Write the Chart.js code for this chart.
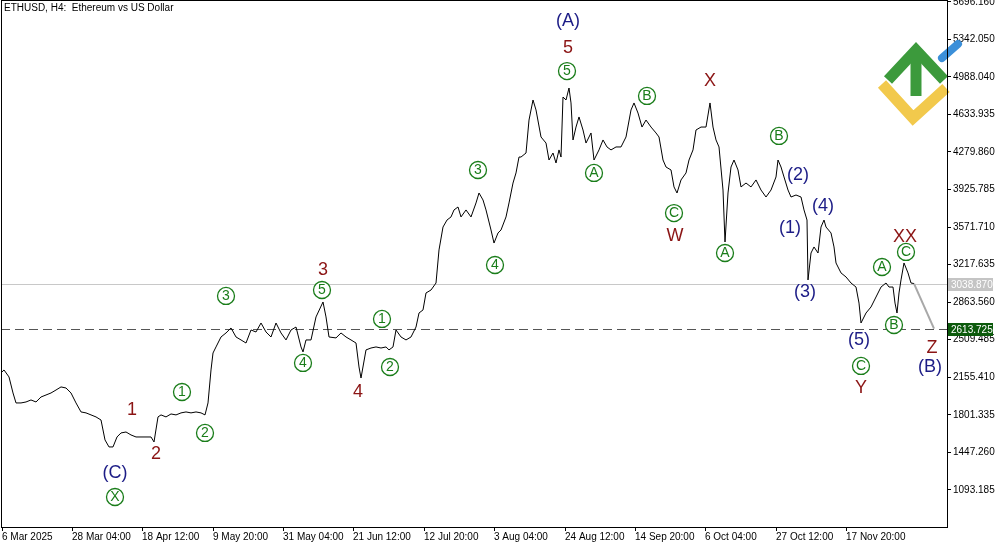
<!DOCTYPE html>
<html>
<head>
<meta charset="utf-8">
<script src="https://cdn.jsdelivr.net/npm/chart.js@4.4.1/dist/chart.umd.min.js"></script>
<style>
  body { margin: 0; background: #fff; }
  #wrap { width: 1000px; height: 545px; }
</style>
</head>
<body>
<div id="wrap"><canvas id="ethChart" width="1000" height="545"></canvas></div>
<script>
// time position (chart slots, ~7h each) and close price
const slots = [0,3,8,12,15,20,25,30,35,40,45,50,55,60,65,70,75,80,85,90,95,100,104,108,112,116,120,125,130,135,140,145,150,153,157,160,165,170,175,180,185,190,195,200,204,207,210,212,215,220,225,230,235,240,245,
  250,255,260,265,270,275,280,285,290,295,300,302,305,310,315,322,325,328,335,340,345,350,355,358,360,365,370,375,380,385,388,392,395,400,405,410,415,418,422,425,430,435,438,442,446,450,453,457,460,465,470,475,478,482,485,490,493,497,500,505,508,512,515,518,
  520,525,528,532,535,540,545,548,552,555,558,560,562,565,568,570,572,575,578,582,585,590,593,598,602,606,610,615,620,625,630,633,637,641,645,650,655,658,662,665,670,673,676,680,685,688,692,695,700,705,709,712,715,718,722,724,727,730,733,737,740,745,750,755,
  760,765,770,775,777,780,783,787,790,795,800,803,806,807,810,813,817,820,823,825,830,833,835,840,845,850,855,858,860,865,870,875,880,885,888,892,894,896,898,900,903,907,910,913];
const closes = [2196,2224,2158,2007,1913,1913,1922,1941,1922,1969,1988,2007,2035,2064,2054,2007,1913,1828,1819,1800,1781,1752,1564,1498,1498,1592,1630,1639,1611,1592,1592,1592,1592,1545,1781,1800,1781,1809,1800,1819,1828,1819,1828,1819,1800,1913,2224,2384,2441,2535,2573,2620,2535,2507,2478,
  2601,2582,2667,2582,2535,2667,2573,2507,2601,2629,2441,2394,2507,2507,2724,2865,2724,2535,2526,2573,2535,2507,2478,2252,2148,2413,2431,2441,2431,2441,2413,2441,2601,2535,2507,2535,2629,2761,2790,2950,2978,3044,3356,3572,3638,3667,3733,3761,3667,3733,3667,3799,3893,3827,3733,3544,3421,3516,3544,3667,3799,3987,4082,4232,
  4232,4270,4581,4770,4676,4421,4364,4204,4270,4176,4299,4232,4798,4770,4883,4742,4393,4515,4610,4487,4364,4459,4204,4299,4393,4327,4299,4327,4327,4421,4676,4742,4647,4515,4581,4515,4459,4421,4204,4138,4110,3950,3893,4016,4082,4204,4299,4487,4515,4515,4742,4515,4393,4327,3921,3431,3893,4138,4204,4110,3950,3987,3950,4016,
  3921,3855,3921,4044,4204,4138,4044,3921,3855,3874,3855,3733,3638,3073,3327,3384,3327,3572,3638,3572,3516,3384,3233,3139,3101,3044,3006,2855,2667,2761,2818,2912,3006,3044,3006,3006,2855,2761,2950,3073,3233,3139,3044,3039];

const projection = [[913, 3039], [933, 2613.725]];
const lastPrice = 3038.870;
const levelPrice = 2613.725;

const yTicks = [5696.160,5342.050,4988.040,4633.935,4279.860,3925.785,3571.710,3217.635,2863.560,2509.485,2155.410,1801.335,1447.260,1093.185];
const xTickPos = [1,71,141,212,282,352,423,493,564,634,704,775,845];
const xTickLabels = ["6 Mar 2025","28 Mar 04:00","18 Apr 12:00","9 May 20:00","31 May 04:00","21 Jun 12:00","12 Jul 20:00","3 Aug 04:00","24 Aug 12:00","14 Sep 20:00","6 Oct 04:00","27 Oct 12:00","17 Nov 20:00"];

// wave labels: text, slot, price, style
const waveLabels = [
  ["(A)",567,5515,"navy"],["5",567,5260,"red"],["5",566,5043,"circ"],
  ["X",709,4949,"red"],["B",646,4808,"circ"],["A",593,4082,"circ"],["C",673,3704,"circ"],["W",674,3488,"red"],["A",724,3327,"circ"],
  ["B",778,4431,"circ"],["(2)",797,4063,"navy"],["(1)",789,3563,"navy"],["(4)",822,3770,"navy"],["(3)",804,2959,"navy"],["(5)",858,2507,"navy"],["C",860,2262,"circ"],["Y",860,2054,"red"],
  ["A",881,3195,"circ"],["B",893,2648,"circ"],["XX",904,3478,"red"],["C",905,3337,"circ"],["Z",931,2431,"red"],["(B)",929,2252,"navy"],
  ["3",477,4110,"circ"],["4",494,3214,"circ"],["1",381,2705,"circ"],["2",389,2252,"circ"],["3",322,3167,"red"],["5",321,2978,"circ"],["4",302,2290,"circ"],["4",357,2016,"red"],
  ["3",225,2922,"circ"],["1",181,2016,"circ"],["2",204,1630,"circ"],["1",131,1847,"red"],["2",155,1432,"red"],["(C)",114,1253,"navy"],["X",114,1026,"circ"]
];

const overlay = {
  id: "overlay",
  beforeDatasetsDraw(chart) {
    const { ctx, chartArea: a, scales: { x, y } } = chart;
    ctx.save();
    // last price line and level line
    ctx.strokeStyle = "#c8c8c8"; ctx.lineWidth = 1;
    let py = Math.round(y.getPixelForValue(lastPrice)) + 0.5;
    ctx.beginPath(); ctx.moveTo(a.left, py); ctx.lineTo(a.right, py); ctx.stroke();
    ctx.strokeStyle = "#555"; ctx.setLineDash([9, 5]);
    py = Math.round(y.getPixelForValue(levelPrice)) + 0.5;
    ctx.beginPath(); ctx.moveTo(a.left, py); ctx.lineTo(a.right, py); ctx.stroke();
    ctx.setLineDash([]);
    // logo
    ctx.lineCap = "butt"; ctx.lineJoin = "miter";
    ctx.strokeStyle = "#3c9a3c"; ctx.lineWidth = 11;
    ctx.beginPath(); ctx.moveTo(888, 80); ctx.lineTo(916, 50); ctx.lineTo(944, 80); ctx.stroke();
    ctx.beginPath(); ctx.moveTo(916, 50); ctx.lineTo(916, 96); ctx.stroke();
    ctx.strokeStyle = "#f2c94c";
    ctx.beginPath(); ctx.moveTo(882, 84); ctx.lineTo(913, 118); ctx.lineTo(946, 88); ctx.stroke();
    ctx.strokeStyle = "#3b8fd9"; ctx.lineCap = "round"; ctx.lineWidth = 8;
    ctx.beginPath(); ctx.moveTo(942, 58); ctx.lineTo(958, 44); ctx.stroke();
    ctx.restore();
  },
  afterDatasetsDraw(chart) {
    const { ctx, chartArea: a, scales: { x, y } } = chart;
    ctx.save();
    // projection
    ctx.strokeStyle = "#a8a8a8"; ctx.lineWidth = 2;
    ctx.beginPath();
    ctx.moveTo(x.getPixelForValue(projection[0][0]), y.getPixelForValue(projection[0][1]));
    ctx.lineTo(x.getPixelForValue(projection[1][0]), y.getPixelForValue(projection[1][1]));
    ctx.stroke();
    // wave labels
    ctx.textAlign = "center"; ctx.textBaseline = "middle";
    waveLabels.forEach(([t, sx, p, kind]) => {
      const px = x.getPixelForValue(sx), py = y.getPixelForValue(p);
      if (kind === "circ") {
        ctx.strokeStyle = "#1a7d1a"; ctx.lineWidth = 1.3;
        ctx.fillStyle = "#fff";
        ctx.beginPath(); ctx.arc(px, py, 8.5, 0, Math.PI * 2); ctx.fill(); ctx.stroke();
        ctx.fillStyle = "#1a7d1a"; ctx.font = "14px 'Liberation Sans'";
        ctx.fillText(t, px, py + 0.5);
      } else {
        ctx.fillStyle = kind === "navy" ? "#1c1c86" : "#8b1414";
        ctx.font = "18px 'Liberation Sans'";
        ctx.fillText(t, px, py);
      }
    });
    // header
    ctx.textAlign = "left"; ctx.fillStyle = "#000"; ctx.font = "10px 'Liberation Sans'";
    ctx.fillText("ETHUSD, H4:  Ethereum vs US Dollar", 4, 8);
    // price tags
    const tag = (p, bg) => {
      const ty = Math.round(y.getPixelForValue(p));
      ctx.fillStyle = bg; ctx.fillRect(a.right + 1, ty - 6, 45, 13);
      ctx.fillStyle = "#fff"; ctx.font = "10px 'Liberation Sans'";
      ctx.fillText(p.toFixed(3), a.right + 4, ty + 1);
    };
    tag(lastPrice, "#c4c4c4");
    tag(levelPrice, "#0c5a0c");
    // frame
    ctx.strokeStyle = "#000"; ctx.lineWidth = 1;
    ctx.strokeRect(a.left + 0.5, a.top + 0.5, a.right - a.left, a.bottom - a.top);
    ctx.restore();
  }
};

new Chart(document.getElementById("ethChart"), {
  type: "line",
  data: {
    datasets: [{
      data: slots.map((s, i) => ({ x: s, y: closes[i] })),
      borderColor: "#000",
      borderWidth: 1,
      pointRadius: 0,
      tension: 0
    }]
  },
  options: {
    responsive: false,
    animation: false,
    devicePixelRatio: 1,
    layout: { padding: { top: 0, left: 1, right: 0, bottom: 0 } },
    plugins: { legend: { display: false }, tooltip: { enabled: false } },
    scales: {
      x: {
        type: "linear", min: 0, max: 946,
        afterBuildTicks: s => { s.ticks = xTickPos.map(v => ({ value: v })); },
        afterFit: s => { s.height = 18; s.paddingLeft = 0; s.paddingRight = 0; },
        grid: { drawOnChartArea: false, tickLength: 4, color: "#000" },
        border: { color: "#000" },
        ticks: {
          autoSkip: false, maxRotation: 0, align: "start", padding: 0,
          color: "#000", font: { family: "Liberation Sans", size: 10 },
          callback: (v, i) => xTickLabels[i]
        }
      },
      y: {
        position: "right", min: 743, max: 5713,
        afterBuildTicks: s => { s.ticks = yTicks.map(v => ({ value: v })); },
        afterFit: s => { s.width = 53; s.paddingTop = 0; s.paddingBottom = 0; },
        grid: { drawOnChartArea: false, tickLength: 4, color: "#000" },
        border: { color: "#000" },
        ticks: {
          padding: 2, color: "#000", font: { family: "Liberation Sans", size: 10 },
          callback: v => v.toFixed(3)
        }
      }
    }
  },
  plugins: [overlay]
});
</script>
</body>
</html>
